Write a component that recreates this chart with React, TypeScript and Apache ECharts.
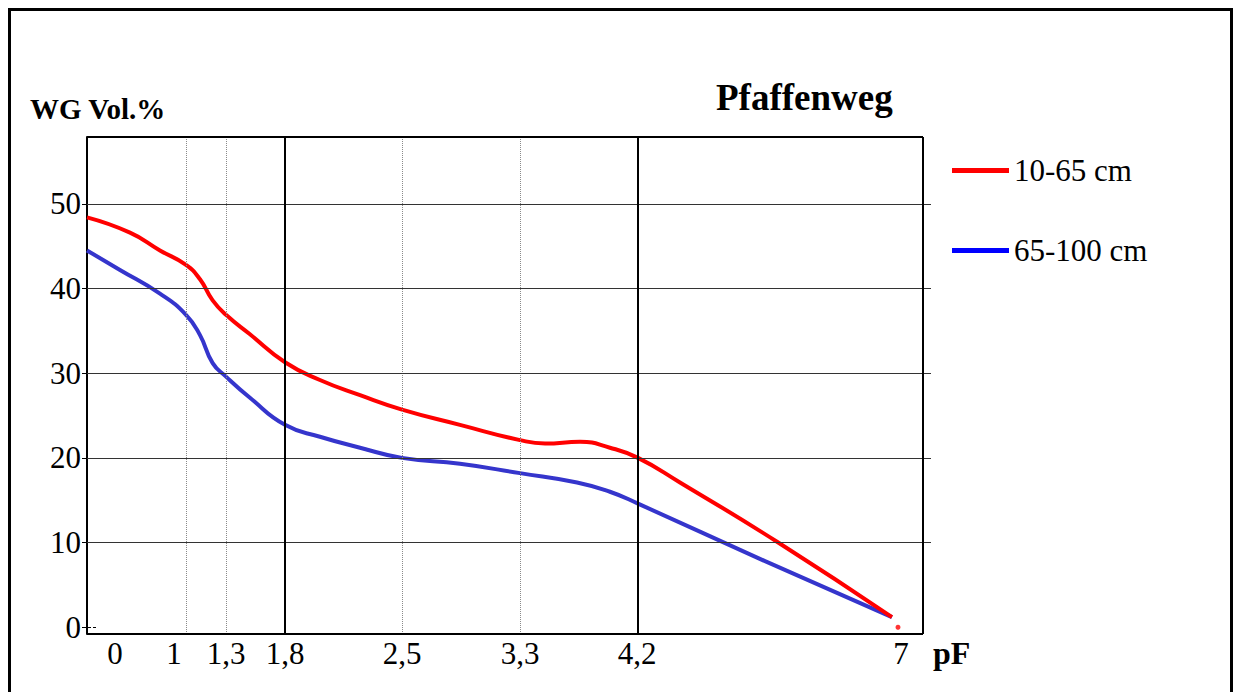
import React, { useEffect, useRef } from "react";
import * as echarts from "echarts";

// pF axis: tick labels, their pF values and the (non-linear) scale stops of the original drawing
const pfTickLabels = ["0", "1", "1,3", "1,8", "2,5", "3,3", "4,2", "7"];
const pfTicks = [0, 1, 1.3, 1.8, 2.5, 3.3, 4.2, 7];
const pfScaleStops = [0, 99, 139, 198, 315, 433, 551, 811];
// where the original printed each pF label along the scale
const pfLabelAt = [28, 87, 139, 198, 315, 433, 550, 814];
const pfAxisMax = 844;
const pfFrameEnd = 836;
const solidPf = [1.8, 4.2];
const dottedPf = [1, 1.3, 2.5, 3.3];

// WG Vol.% axis
const wgMin = -0.8;
const wgMax = 57.9;
const wgTicks = [0, 10, 20, 30, 40, 50];
const wgGrid = [10, 20, 30, 40, 50];

// series 10-65 cm
const redName = "10-65 cm";
const redPf = [0, 0.434, 0.737, 1.0, 1.105, 1.2, 1.3, 1.503, 1.8, 2.009, 2.249, 2.5, 2.893, 3.3, 3.491, 3.758, 3.986, 4.2, 4.652, 5.697, 6.935];
const redWg = [48.4, 46.6, 44.5, 42.8, 41.1, 38.6, 36.9, 34.6, 31.3, 29.2, 27.4, 25.7, 23.9, 22.1, 21.7, 21.9, 21.2, 20.0, 17.1, 10.1, 1.2];
const redEndPoint = [7, 0];

// series 65-100 cm
const blueName = "65-100 cm";
const bluePf = [0, 0.333, 0.737, 1.0, 1.105, 1.2, 1.3, 1.503, 1.8, 2.009, 2.249, 2.5, 2.893, 3.3, 3.735, 3.986, 4.2, 5.568, 6.935];
const blueWg = [44.5, 42.2, 39.4, 36.9, 34.5, 31.2, 29.6, 27.1, 23.9, 22.5, 21.2, 20.0, 19.3, 18.2, 17.1, 16.0, 14.6, 7.8, 1.2];

const FONT = "Liberation Serif";

function toScale(pf: number): number {
  for (let i = 0; i < pfTicks.length - 1; i++) {
    const a = pfTicks[i], b = pfTicks[i + 1];
    if (pf <= b || i === pfTicks.length - 2) {
      const t = (pf - a) / (b - a);
      return pfScaleStops[i] + t * (pfScaleStops[i + 1] - pfScaleStops[i]);
    }
  }
  return 0;
}

export default function App() {
  const ref = useRef<HTMLDivElement>(null);
  useEffect(() => {
    if (!ref.current) return;
    const chart = echarts.init(ref.current, undefined, { renderer: "svg" });
    const black2 = { color: "#000", width: 2, type: "solid" };
    const markData: any[] = [];
    dottedPf.forEach((p) => markData.push({ xAxis: toScale(p), lineStyle: { color: "#8a8a8a", width: 1, type: "dotted" } }));
    wgGrid.forEach((v) => markData.push({ yAxis: v, lineStyle: { color: "#333", width: 1, type: "solid" } }));
    solidPf.forEach((p) => markData.push({ xAxis: toScale(p), lineStyle: black2 }));
    markData.push({ xAxis: pfFrameEnd, lineStyle: black2 });
    markData.push([{ coord: [0, wgMax], lineStyle: black2 }, { coord: [pfFrameEnd, wgMax] }]);
    markData.push([{ coord: [0, wgMin], lineStyle: black2 }, { coord: [pfFrameEnd, wgMin] }]);
    markData.push([{ coord: [0, 0], lineStyle: { color: "#000", width: 1 } }, { coord: [9, 0] }]);

    const option: any = {
      animation: false,
      title: [
        { text: "Pfaffenweg", left: 716, top: 79, padding: 0, textStyle: { fontFamily: FONT, fontSize: 37, fontWeight: "bold", color: "#000" } },
        { text: "WG Vol.%", left: 30, top: 94, padding: 0, textStyle: { fontFamily: FONT, fontSize: 29, fontWeight: "bold", color: "#000" } },
      ],
      legend: {
        orient: "vertical",
        left: 952,
        top: 155,
        padding: 0,
        itemGap: 49,
        itemWidth: 57,
        itemHeight: 5,
        icon: "rect",
        selectedMode: false,
        data: [
          { name: redName, itemStyle: { color: "#ff0000" } },
          { name: blueName, itemStyle: { color: "#0000ff" } },
        ],
        textStyle: { fontFamily: FONT, fontSize: 31, color: "#000" },
      },
      grid: { left: 87, top: 137, width: pfAxisMax, height: 497, containLabel: false },
      xAxis: {
        type: "value",
        min: 0,
        max: pfAxisMax,
        name: "pF",
        nameLocation: "end",
        nameGap: 2,
        nameTextStyle: { fontFamily: FONT, fontSize: 32, fontWeight: "bold", color: "#000", verticalAlign: "top", align: "left", padding: [10, 0, 0, 0] },
        axisLine: { show: false },
        axisTick: { show: false },
        splitLine: { show: false },
        axisLabel: {
          customValues: pfLabelAt,
          margin: 4,
          fontFamily: FONT,
          fontSize: 31,
          color: "#000",
          formatter: (v: number) => {
            const i = pfLabelAt.findIndex((s) => Math.abs(s - v) < 0.001);
            return i < 0 ? "" : pfTickLabels[i];
          },
        },
      },
      yAxis: {
        type: "value",
        min: wgMin,
        max: wgMax,
        axisLine: { show: true, lineStyle: { color: "#000", width: 2 } },
        axisTick: { show: true, customValues: wgTicks, length: 5, lineStyle: { color: "#000", width: 1 } },
        splitLine: { show: false },
        axisLabel: { customValues: wgTicks, margin: 6, fontFamily: FONT, fontSize: 31, color: "#000" },
      },
      series: [
        {
          type: "line",
          name: "frame",
          data: [],
          silent: true,
          clip: false,
          z: 1,
          markLine: {
            silent: true,
            symbol: ["none", "none"],
            label: { show: false },
            animation: false,
            data: markData,
          },
        },
        {
          type: "line",
          name: redName,
          data: redPf.map((p, i) => [toScale(p), redWg[i]]),
          smooth: 0.5,
          showSymbol: false,
          z: 4,
          itemStyle: { color: "#ff0000" },
          lineStyle: { color: "#ff0000", width: 4 },
        },
        {
          type: "line",
          name: blueName,
          data: bluePf.map((p, i) => [toScale(p), blueWg[i]]),
          smooth: 0.5,
          showSymbol: false,
          z: 3,
          itemStyle: { color: "#3535cc" },
          lineStyle: { color: "#3535cc", width: 4 },
        },
        {
          type: "scatter",
          name: "end",
          data: [[toScale(redEndPoint[0]), redEndPoint[1]]],
          symbolSize: 5,
          z: 5,
          itemStyle: { color: "#ff0000" },
        },
      ],
      graphic: [
        {
          type: "rect",
          silent: true,
          shape: { x: 9.5, y: 9.5, width: 1222, height: 700 },
          style: { fill: "none", stroke: "#000", lineWidth: 3 },
        },
      ],
    };
    chart.setOption(option);
    return () => chart.dispose();
  }, []);
  return <div ref={ref} style={{ position: "fixed", left: 0, top: 0, width: 1234, height: 692, background: "#fff", fontFamily: FONT }} />;
}
